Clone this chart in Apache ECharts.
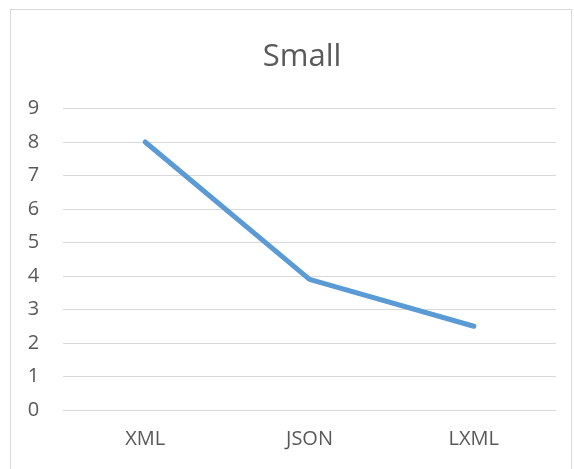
<!DOCTYPE html>
<html>
<head>
<meta charset="utf-8">
<script src="https://cdn.jsdelivr.net/npm/echarts@6/dist/echarts.min.js"></script>
<style>
  html, body { margin: 0; padding: 0; background: #fff; }
  #frame { position: absolute; left: 10px; top: 9px; width: 562px; height: 470px; border: 1px solid #d9d9d9; box-sizing: border-box; }
  #chart { position: absolute; left: 0; top: 0; width: 574px; height: 469px; }
</style>
</head>
<body>
<div id="frame"></div>
<div id="chart"></div>
<script>
// Parser timings (small input)
const categories = ['XML', 'JSON', 'LXML'];
const values = [8, 3.9, 2.5];
const yTicks = [0, 1, 2, 3, 4, 5, 6, 7, 8, 9];

const chart = echarts.init(document.getElementById('chart'), null, { renderer: 'canvas' });
const font = '"Open Sans", "Liberation Sans", sans-serif';

chart.setOption({
  animation: false,
  title: {
    text: 'Small',
    left: 297,
    textAlign: 'center',
    top: 37,
    textStyle: { fontFamily: font, fontSize: 31, fontWeight: 'normal', color: '#595959' }
  },
  grid: { left: 63, right: 18, top: 108.5, bottom: 59, containLabel: false },
  xAxis: {
    type: 'category',
    data: categories,
    boundaryGap: true,
    axisLine: { show: true, lineStyle: { color: '#d9d9d9', width: 1 } },
    axisTick: { show: false },
    axisLabel: { fontFamily: font, fontSize: 20, color: '#595959', margin: 19 }
  },
  yAxis: {
    type: 'value',
    min: yTicks[0],
    max: yTicks[yTicks.length - 1],
    interval: 1,
    axisLine: { show: false },
    axisTick: { show: false },
    splitLine: { show: true, lineStyle: { color: '#d9d9d9', width: 1 } },
    axisLabel: { fontFamily: font, fontSize: 20, color: '#595959', margin: 29.5, align: 'center' }
  },
  series: [{
    type: 'line',
    data: values,
    symbol: 'none',
    lineStyle: { color: '#5b9bd5', width: 5, cap: 'round', join: 'round' }
  }]
});
</script>
</body>
</html>
